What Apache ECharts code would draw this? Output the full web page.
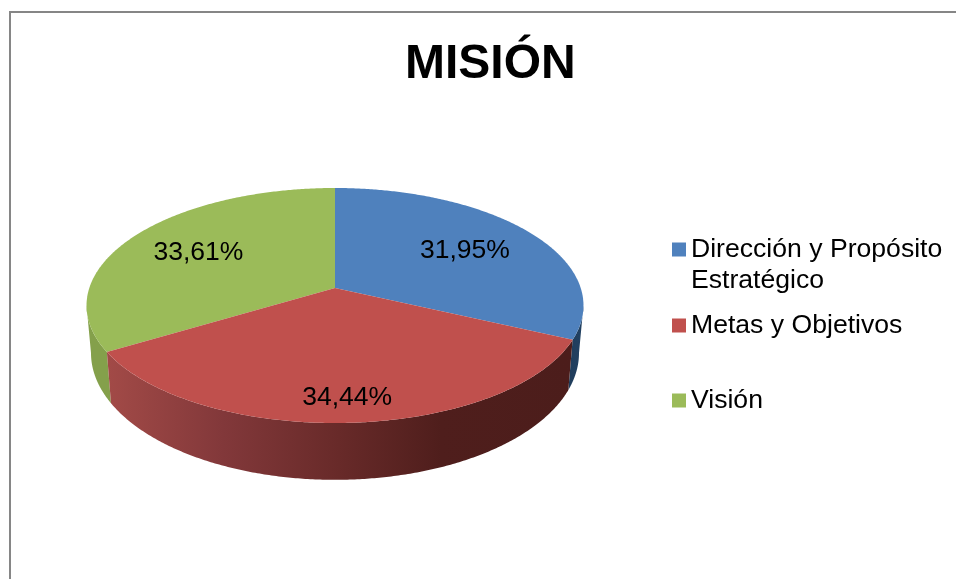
<!DOCTYPE html>
<html>
<head>
<meta charset="utf-8">
<style>html,body{margin:0;padding:0;background:#fff}#chart{width:956px;height:579px}</style>
<script src="https://cdn.jsdelivr.net/npm/echarts@6/dist/echarts.min.js"></script>
</head>
<body>
<div id="chart"></div>
<script>
const categories = ['Dirección y Propósito\nEstratégico', 'Metas y Objetivos', 'Visión'];
const percentages = [31.95, 34.44, 33.61];
const topColors = ['#4f81bd', '#c0504d', '#9bbb59'];
const titleText = 'MISIÓN';

// Perspective disc: apex position, radii and foreshortening of the upper face.
const disc = { cx: 335, cy: 288, a: 245.7, b: 114.9, p: 0.149 };
// Lower rim of the extruded wall, relative to the upper face.
const rim = { cy: 334, sx: 0.982, sy: 1.08 };
const labelRadius = [0.66, 0.83, 0.67];
const labelDrop = 1;
const fontFamily = '"Liberation Sans", Arial, sans-serif';

const project = (deg, r) => {
  const t = deg * Math.PI / 180;
  const u = Math.sin(t) * r, v = Math.cos(t) * r, d = 1 + disc.p * v;
  return [disc.a * u / d, -disc.b * v / d];
};
const topPoint = (deg, r = 1) => {
  const q = project(deg, r);
  return [disc.cx + q[0], disc.cy + q[1]];
};
const rimPoint = deg => {
  const q = project(deg, 1);
  return [disc.cx + rim.sx * q[0], rim.cy + rim.sy * q[1]];
};

// Only the part of the wall between the two silhouette angles faces the viewer.
const edgeAngle = Math.acos(-disc.p) * 180 / Math.PI;
const wallRange = [edgeAngle, 360 - edgeAngle];

const sweep = (from, to, fn) => {
  const pts = [], n = Math.max(2, Math.ceil(Math.abs(to - from) * 2));
  for (let i = 0; i <= n; i++) pts.push(fn(from + (to - from) * i / n));
  return pts;
};

const total = percentages.reduce((s, v) => s + v, 0);
const startAngles = percentages.map((_, i) =>
  percentages.slice(0, i).reduce((s, v) => s + v, 0) / total * 360);

const wallFill = [
  new echarts.graphic.LinearGradient(545, 0, 585, 0, [
    { offset: 0, color: '#1b3550' }, { offset: 1, color: '#234263' }], true),
  new echarts.graphic.LinearGradient(108, 0, 570, 0, [
    { offset: 0, color: '#a24a47' },
    { offset: 0.25, color: '#82383a' },
    { offset: 0.5, color: '#682a29' },
    { offset: 0.72, color: '#4f1e1c' },
    { offset: 1, color: '#4c1d1b' }], true),
  '#84a04b'
];

const drawSlice = index => (params, api) => {
  const value = api.value(0);
  const start = startAngles[index];
  const end = start + value / total * 360;
  const children = [];

  const wStart = Math.max(start, wallRange[0]);
  const wEnd = Math.min(end, wallRange[1]);
  if (wEnd > wStart) {
    children.push({
      type: 'polygon',
      shape: { points: sweep(wStart, wEnd, topPoint).concat(sweep(wEnd, wStart, rimPoint)) },
      style: { fill: wallFill[index] },
      z2: 1
    });
  }

  children.push({
    type: 'polygon',
    shape: { points: [[disc.cx, disc.cy]].concat(sweep(start, end, topPoint)) },
    style: { fill: topColors[index] },
    z2: 2
  });

  const labelAt = topPoint((start + end) / 2, labelRadius[index]);
  children.push({
    type: 'text',
    style: {
      x: labelAt[0], y: labelAt[1] + labelDrop,
      text: value.toFixed(2).replace('.', ',') + '%',
      fill: '#000', font: '26.5px ' + fontFamily,
      align: 'center', verticalAlign: 'middle'
    },
    z2: 3
  });
  return { type: 'group', children };
};

const legendTops = [203, 310, 385];
const legendText = { fontFamily, fontSize: 26.6, lineHeight: 31, color: '#000' };

const chart = echarts.init(document.getElementById('chart'), null, { renderer: 'canvas' });
chart.setOption({
  animation: false,
  backgroundColor: '#fff',
  title: {
    text: titleText, left: 405, top: 41, padding: 0,
    textStyle: { fontFamily, fontSize: 48, fontWeight: 'bold', color: '#000' }
  },
  legend: categories.map((name, i) => ({
    data: [name],
    orient: 'vertical',
    left: 672, top: legendTops[i], padding: 0,
    itemWidth: 14, itemHeight: 14, itemGap: 0,
    icon: 'rect',
    selectedMode: false,
    textStyle: { ...legendText, padding: [0, 0, 0, 0] },
    // A blank first line keeps the swatch level with the first line of wrapped names.
    formatter: n => n.includes('\n') ? '\n' + n : n
  })),
  graphic: [{
    type: 'polyline', silent: true,
    shape: { points: [[10, 579], [10, 12], [956, 12]] },
    style: { fill: null, stroke: '#868686', lineWidth: 2 }
  }],
  series: categories.map((name, i) => ({
    type: 'custom',
    name,
    coordinateSystem: 'none',
    silent: true,
    itemStyle: { color: topColors[i] },
    data: [[percentages[i]]],
    renderItem: drawSlice(i),
    z: 2 + (i === 1 ? 1 : 0)
  }))
});
</script>
</body>
</html>
